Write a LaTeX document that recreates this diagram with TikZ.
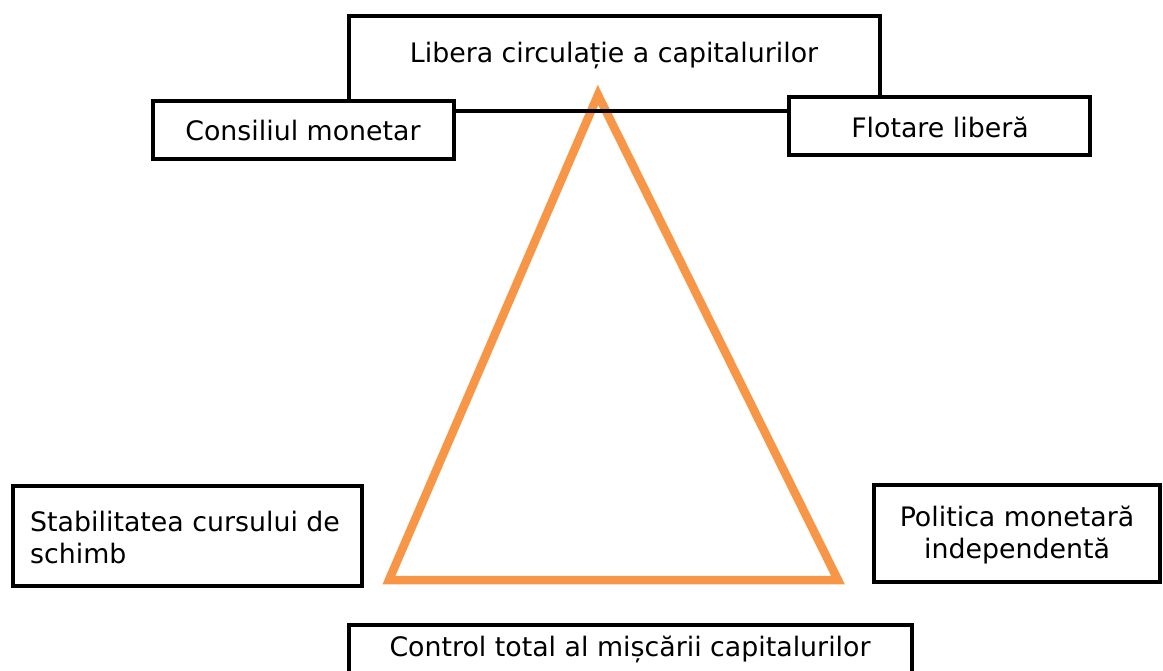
\documentclass[tikz,border=0pt]{standalone}
\usepackage{fontspec}
\setmainfont{DejaVu Sans}
\definecolor{trioran}{HTML}{F79646}
\begin{document}
\begin{tikzpicture}[x=1pt,y=-1pt,
  box/.style={draw=black,line width=3.5pt},
  lbl/.style={font=\fontsize{26.8}{32}\selectfont,inner sep=0pt,align=center}]
\useasboundingbox (0,0) rectangle (1163,671);
% triangle
\coordinate (apex) at (598,95);
\coordinate (bl) at (389,580);
\coordinate (br) at (838,580);
\draw[trioran,line width=8.5pt,line join=miter] (apex) -- (bl) -- (br) -- cycle;
% top box (unfilled)
\draw[box] (349,16) rectangle (880,111);
\node[lbl] (top) at (614,56) {Libera circulație a capitalurilor};
% side boxes at top
\draw[box,fill=white] (153,101) rectangle (454,159);
\node[lbl] (cm) at (303,131) {Consiliul monetar};
\draw[box,fill=white] (789,97) rectangle (1090,155);
\node[lbl] (fl) at (940,127) {Flotare liberă};
% lower boxes
\draw[box] (13,486) rectangle (362,586);
\node[lbl,align=left,anchor=west] (st) at (30,538) {Stabilitatea cursului de\\schimb};
\draw[box] (874,485) rectangle (1160,582);
\node[lbl] (pm) at (1017,535) {Politica monetară\\independentă};
\draw[box] (349,690) -- (349,625) -- (912,625) -- (912,690);
\node[lbl] (ct) at (630,649) {Control total al mișcării capitalurilor};
\end{tikzpicture}
\end{document}
